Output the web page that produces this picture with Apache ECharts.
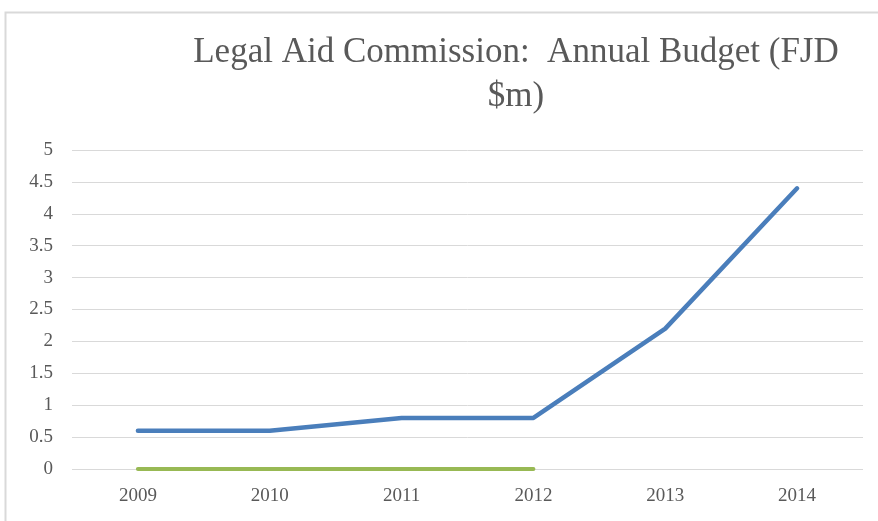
<!DOCTYPE html>
<html><head><meta charset="utf-8">
<script src="https://cdn.jsdelivr.net/npm/echarts@6/dist/echarts.min.js"></script>
<style>html,body{margin:0;padding:0;background:#fff}#c{width:878px;height:521px}</style>
</head><body><div id="c"></div>
<script>
const categories = ['2009','2010','2011','2012','2013','2014'];
const budget = [0.6, 0.6, 0.8, 0.8, 2.2, 4.4];
const secondSeries = [0, 0, 0, 0, null, null];
const titleText = 'Legal Aid Commission:  Annual Budget (FJD\n$m)';

const chart = echarts.init(document.getElementById('c'));
const serif = '"Liberation Serif", "DejaVu Serif", serif';
chart.setOption({
  animation: false,
  backgroundColor: '#fff',
  title: {
    text: titleText,
    left: 511, top: 26, textAlign: 'center',
    textStyle: {fontFamily: serif, fontSize: 35, fontWeight: 'normal', color: '#595959', lineHeight: 44}
  },
  graphic: [{type: 'rect', shape: {x: 5.5, y: 12.5, width: 900, height: 600}, style: {fill: 'none', stroke: '#d9d9d9', lineWidth: 2}, silent: true}],
  grid: {left: 72, right: 15, top: 150, bottom: 52},
  xAxis: {
    type: 'category', data: categories, boundaryGap: true,
    axisLine: {show: false}, axisTick: {show: false},
    axisLabel: {fontFamily: serif, fontSize: 19, color: '#595959', margin: 18}
  },
  yAxis: {
    type: 'value', min: 0, max: 5, interval: 0.5,
    axisLine: {show: false}, axisTick: {show: false},
    axisLabel: {fontFamily: serif, fontSize: 19, color: '#595959', margin: 19},
    splitLine: {lineStyle: {color: '#d9d9d9', width: 1}}
  },
  series: [
    {type: 'line', data: budget, symbol: 'none', lineStyle: {color: '#4a7ebb', width: 4.5, cap: 'round', join: 'round'}},
    {type: 'line', data: secondSeries, symbol: 'none', lineStyle: {color: '#98b954', width: 4, cap: 'round'}}
  ]
});
</script></body></html>
